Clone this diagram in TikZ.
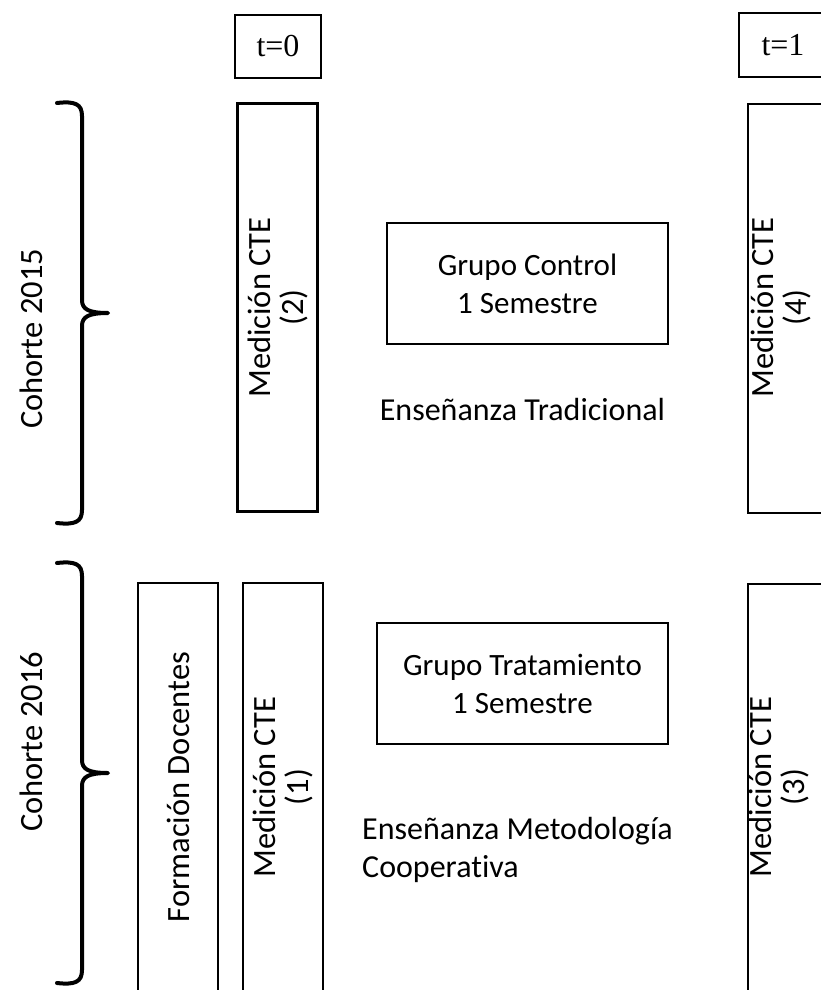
\documentclass[tikz,border=0pt]{standalone}
\usepackage{fontspec}
\setmainfont{Carlito}[Ligatures=NoCommon]
\newfontfamily\timesfont{Liberation Serif}

\begin{document}
\begin{tikzpicture}[x=1pt,y=-1pt,
    tbox/.style={draw,line width=1.5pt,minimum width=86pt,minimum height=63pt,inner sep=0pt,font=\timesfont\fontsize{32}{34}\selectfont},
    colbox/.style={draw,line width=2.4pt,rotate=90,minimum width=408pt,minimum height=80pt,inner sep=0pt,align=center,font=\fontsize{32.5}{33}\selectfont},
    vtext/.style={rotate=90,inner sep=0pt,align=center,font=\fontsize{32.5}{33}\selectfont},
    grpbox/.style={draw,line width=2.4pt,inner sep=0pt,align=center,font=\fontsize{31}{38}\selectfont},
    plain/.style={inner sep=0pt,font=\fontsize{32}{38}\selectfont},
    cbrace/.style={line width=4pt,line cap=round,line join=round}]
    \useasboundingbox (0,0) rectangle (820,990);
    % times
    \node[tbox] (t0) at (278,46.5) {t=0};
    \node[tbox,anchor=west,minimum width=100pt,minimum height=64pt] (t1) at (738,45) {};
    \node[inner sep=0pt,font=\timesfont\fontsize{32}{34}\selectfont] (t1txt) at (783,45) {t=1};
    % cohorte 2015
    \draw[cbrace] (57,103) .. controls (75,101) and (82,104) .. (82,116) -- (82,300)
        .. controls (82,309) and (88,313) .. (108,313)
        .. controls (88,313) and (82,317) .. (82,326) -- (82,510)
        .. controls (82,522) and (75,525) .. (57,523);
    \node[vtext] (c15) at (31,339) {Cohorte 2015};
    \node[colbox] (m2) at (277.5,307.5) {Medición CTE\\(2)};
    \node[grpbox,minimum width=281pt,minimum height=121pt] (gc) at (527.5,283.5) {Grupo Control\\1 Semestre};
    \node[plain] (et) at (522.5,410) {Enseñanza Tradicional};
    \node[draw,line width=2.4pt,anchor=north west,minimum width=100pt,minimum height=409pt] (m4) at (747,103) {};
    \node[vtext] (m4txt) at (781,307.5) {Medición CTE\\(4)};
    % cohorte 2016
    \begin{scope}[shift={(0,460)}]
        \draw[cbrace] (57,103) .. controls (75,101) and (82,104) .. (82,116) -- (82,300)
            .. controls (82,309) and (88,313) .. (108,313)
            .. controls (88,313) and (82,317) .. (82,326) -- (82,510)
            .. controls (82,522) and (75,525) .. (57,523);
    \end{scope}
    \node[vtext] (c16) at (31,742) {Cohorte 2016};
    \node[colbox] (fd) at (178,787) {Formación Docentes};
    \node[colbox] (m1) at (283,787) {Medición CTE\\(1)};
    \node[grpbox,minimum width=291pt,minimum height=121pt] (gt) at (522.5,683.5) {Grupo Tratamiento\\1 Semestre};
    \node[plain,anchor=west,align=left] (em) at (362,850) {Enseñanza Metodología\\Cooperativa};
    \node[draw,line width=2.4pt,anchor=north west,minimum width=100pt,minimum height=409pt] (m3) at (747,583) {};
    \node[vtext] (m3txt) at (779,787) {Medición CTE\\(3)};
\end{tikzpicture}
\end{document}
